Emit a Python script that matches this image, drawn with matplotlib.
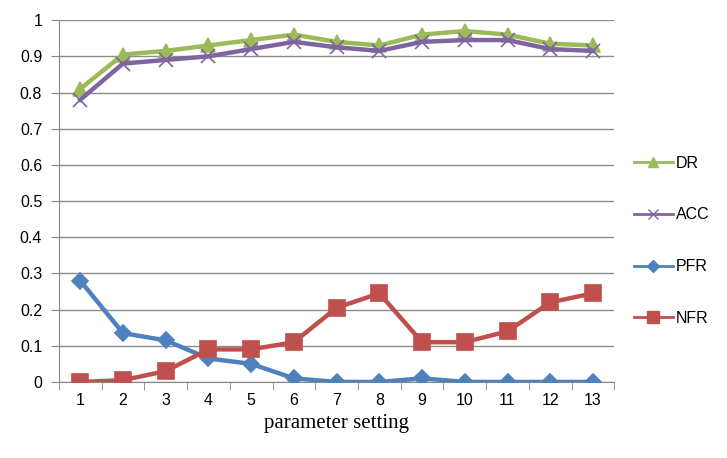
import matplotlib.pyplot as plt
import numpy as np
from matplotlib.lines import Line2D

settings = list(range(1, 14))
dr = [0.81, 0.905, 0.915, 0.93, 0.945, 0.96, 0.94, 0.93, 0.96, 0.97, 0.96, 0.935, 0.93]
acc = [0.78, 0.88, 0.89, 0.90, 0.92, 0.94, 0.925, 0.915, 0.94, 0.945, 0.945, 0.92, 0.915]
pfr = [0.28, 0.135, 0.115, 0.065, 0.05, 0.01, 0.0, 0.0, 0.01, 0.0, 0.0, 0.0, 0.0]
nfr = [0.0, 0.005, 0.03, 0.09, 0.09, 0.11, 0.205, 0.245, 0.11, 0.11, 0.14, 0.22, 0.245]

plt.rcParams["font.family"] = ["Liberation Sans", "DejaVu Sans"]

fig = plt.figure(figsize=(7.27, 4.58), dpi=100)
ax = fig.add_axes([0.081, 0.166, 0.764, 0.79])

styles = [
    ("DR", dr, "#9BBB59", "^", 10, 4),
    ("ACC", acc, "#8064A2", "x", 10, 5),
    ("PFR", pfr, "#4F81BD", "D", 8, 4),
    ("NFR", nfr, "#C0504D", "s", 12, 5),
]
handles = []
for name, vals, col, mk, ms, z in styles:
    ax.plot(settings, vals, color=col, lw=3.2, marker=mk, ms=ms, mew=1.2, zorder=z)
    handles.append(Line2D([], [], color=col, lw=2, marker=mk, ms=ms * 0.75, mew=1.0, label=name))

ax.set_xlim(0.5, 13.5)
ax.set_ylim(0, 1)
ax.set_yticks(np.arange(0, 1.01, 0.1))
ax.set_yticklabels(["0"] + [f"{v:.1f}" for v in np.arange(0.1, 0.95, 0.1)] + ["1"])
ax.set_xticks(settings)
ax.set_xticks(np.arange(0.5, 13.6, 1), minor=True)
ax.tick_params(axis="x", which="major", length=0, pad=8, labelsize=11.5)
ax.tick_params(axis="x", which="minor", length=6, color="#868686", direction="out")
ax.tick_params(axis="y", length=6, color="#868686", labelsize=11.5, pad=6)
ax.grid(axis="y", color="#8c8c8c", lw=1)
ax.set_axisbelow(True)
for s in ["top", "right"]:
    ax.spines[s].set_visible(False)
ax.spines["left"].set_color("#868686")
ax.spines["bottom"].set_color("#868686")

ax.set_xlabel("parameter setting", family="Liberation Serif", fontsize=15, labelpad=4)

ax.legend(handles=handles, loc="center left", bbox_to_anchor=(1.01, 0.39), frameon=False,
          fontsize=11.5, labelspacing=2.3, handlelength=2.4, handletextpad=0.2)

fig.savefig("out.png", dpi=100)
